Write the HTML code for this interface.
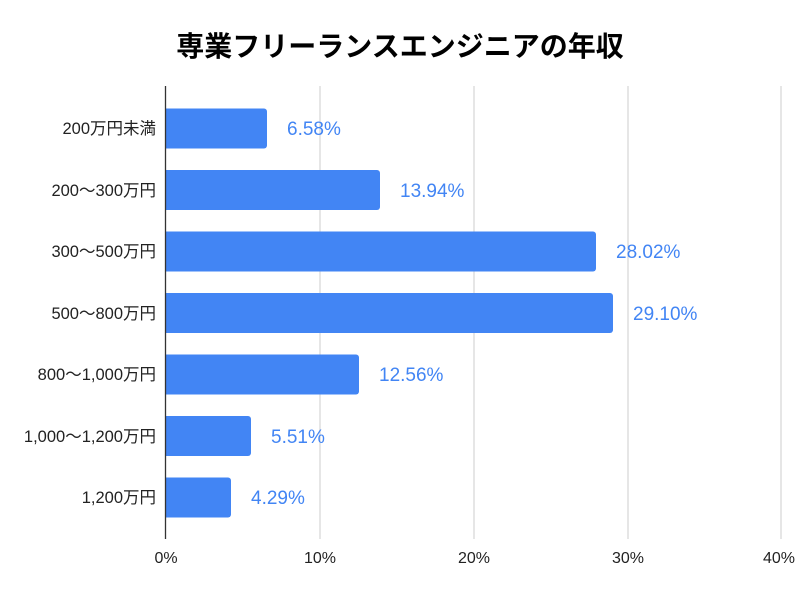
<!DOCTYPE html>
<html><head><meta charset="utf-8"><style>
body{margin:0;background:#fff;width:800px;height:600px;overflow:hidden}
svg text{font-family:"Liberation Sans","Noto Sans CJK JP",sans-serif}
</style></head><body>
<svg width="800" height="600" xmlns="http://www.w3.org/2000/svg">
<text x="400" y="56" text-anchor="middle" font-size="28" font-weight="bold" fill="#000" font-family="'Liberation Sans','Noto Sans CJK JP',sans-serif">専業フリーランスエンジニアの年収</text>
<g stroke="#ccc" stroke-width="1">
<line x1="320" y1="86" x2="320" y2="539"/>
<line x1="474" y1="86" x2="474" y2="539"/>
<line x1="628" y1="86" x2="628" y2="539"/>
<line x1="781" y1="86" x2="781" y2="539"/>
</g>
<g fill="#4285f4">
<path d="M166 108.5h98a3 3 0 0 1 3 3v34a3 3 0 0 1-3 3h-98z"/>
<path d="M166 170h211a3 3 0 0 1 3 3v34a3 3 0 0 1-3 3h-211z"/>
<path d="M166 231.5h427a3 3 0 0 1 3 3v34a3 3 0 0 1-3 3h-427z"/>
<path d="M166 293h444a3 3 0 0 1 3 3v34a3 3 0 0 1-3 3h-444z"/>
<path d="M166 354.5h190a3 3 0 0 1 3 3v34a3 3 0 0 1-3 3h-190z"/>
<path d="M166 416h82a3 3 0 0 1 3 3v34a3 3 0 0 1-3 3h-82z"/>
<path d="M166 477.5h62a3 3 0 0 1 3 3v34a3 3 0 0 1-3 3h-62z"/>
</g>
<line x1="165.5" y1="86" x2="165.5" y2="539" stroke="#333" stroke-width="1.3"/>
<g fill="#4285f4" font-size="19">
<text x="287" y="135">6.58%</text>
<text x="400" y="197">13.94%</text>
<text x="616" y="258">28.02%</text>
<text x="633" y="320">29.10%</text>
<text x="379" y="381">12.56%</text>
<text x="271" y="443">5.51%</text>
<text x="251" y="504">4.29%</text>
</g>
<g fill="#222" font-size="16.5" text-anchor="end">
<text x="156" y="134">200万円未満</text>
<text x="156" y="196">200～300万円</text>
<text x="156" y="257">300～500万円</text>
<text x="156" y="319">500～800万円</text>
<text x="156" y="380">800～1,000万円</text>
<text x="156" y="442">1,000～1,200万円</text>
<text x="156" y="503">1,200万円</text>
</g>
<g fill="#222" font-size="16" text-anchor="middle">
<text x="166" y="563">0%</text>
<text x="320" y="563">10%</text>
<text x="474" y="563">20%</text>
<text x="628" y="563">30%</text>
<text x="779" y="563">40%</text>
</g>
</svg>
</body></html>
